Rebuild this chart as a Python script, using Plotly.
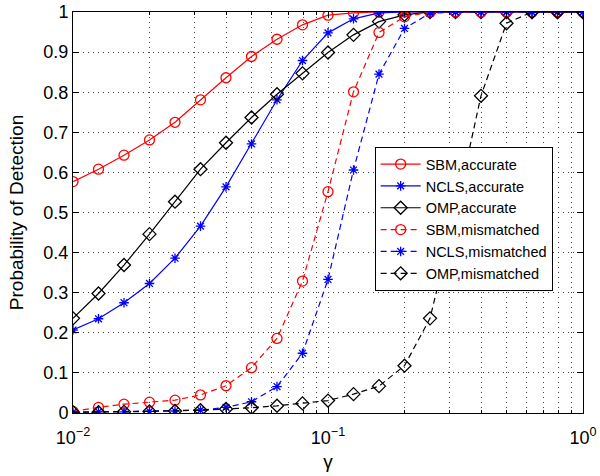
import plotly.graph_objects as go

gamma_exp = [-2 + 0.1 * k for k in range(21)]
gamma = [10 ** e for e in gamma_exp]

sbm_acc = [0.577, 0.608, 0.643, 0.681, 0.725, 0.781, 0.836, 0.889, 0.932, 0.968, 0.992,
           0.998, 1.0, 1.0, 1.0, 1.0, 1.0, 1.0, 1.0, 1.0, 1.0]
ncls_acc = [0.207, 0.235, 0.275, 0.323, 0.386, 0.466, 0.564, 0.671, 0.781, 0.879, 0.948,
            0.983, 0.998, 1.0, 1.0, 1.0, 1.0, 1.0, 1.0, 1.0, 1.0]
omp_acc = [0.236, 0.298, 0.369, 0.446, 0.527, 0.608, 0.674, 0.737, 0.795, 0.847, 0.899,
           0.943, 0.976, 0.993, 1.0, 1.0, 1.0, 1.0, 1.0, 1.0, 1.0]
sbm_mis = [0.004, 0.014, 0.022, 0.027, 0.032, 0.045, 0.068, 0.113, 0.186, 0.329, 0.552,
           0.801, 0.949, 0.988, 1.0, 1.0, 1.0, 1.0, 1.0, 1.0, 1.0]
ncls_mis = [0.002, 0.003, 0.003, 0.004, 0.005, 0.007, 0.014, 0.028, 0.066, 0.149, 0.333,
            0.606, 0.845, 0.959, 0.997, 1.0, 1.0, 1.0, 1.0, 1.0, 1.0]
omp_mis = [0.002, 0.002, 0.003, 0.004, 0.005, 0.007, 0.010, 0.013, 0.018, 0.024, 0.031,
           0.047, 0.067, 0.118, 0.236, 0.50, 0.791, 0.972, 1.0, 1.0, 1.0]

x_tickvals = [0.01, 0.1, 1]
x_ticktext = ["10<sup>\u22122</sup>", "10<sup>\u22121</sup>", "10<sup>0</sup>"]
y_tickvals = [0, 0.1, 0.2, 0.3, 0.4, 0.5, 0.6, 0.7, 0.8, 0.9, 1]
y_ticktext = ["0", "0.1", "0.2", "0.3", "0.4", "0.5", "0.6", "0.7", "0.8", "0.9", "1"]

series = [
    ("SBM,accurate", sbm_acc, "#ff0000", "solid", "circle-open"),
    ("NCLS,accurate", ncls_acc, "#0000ff", "solid", "asterisk-open"),
    ("OMP,accurate", omp_acc, "#000000", "solid", "diamond-open"),
    ("SBM,mismatched", sbm_mis, "#ff0000", "6px,4px", "circle-open"),
    ("NCLS,mismatched", ncls_mis, "#0000ff", "6px,4px", "asterisk-open"),
    ("OMP,mismatched", omp_mis, "#000000", "6px,4px", "diamond-open"),
]

fig = go.Figure()
for name, vals, color, dash, sym in series:
    fig.add_trace(go.Scatter(
        x=gamma, y=vals, name=name, mode="lines+markers",
        line=dict(color=color, width=1.2, dash=dash),
        marker=dict(symbol=sym, size=10 if sym != "asterisk-open" else 8,
                    color=color, line=dict(color=color, width=1.3)),
    ))

font = "Liberation Sans, Arial, Helvetica, sans-serif"
minor_vals = [m * 10 ** d for d in (-2, -1) for m in range(2, 10)]
grid = dict(showgrid=True, gridcolor="#444444", griddash="1px,4px", gridwidth=1)

fig.update_layout(
    width=600, height=476,
    margin=dict(l=73, r=17, t=12, b=63),
    paper_bgcolor="white", plot_bgcolor="white",
    font=dict(family=font, size=18, color="black"),
    showlegend=True,
    legend=dict(
        x=0.766, y=0.663, xanchor="center", yanchor="top",
        bgcolor="white", bordercolor="black", borderwidth=1,
        font=dict(family=font, size=14.5, color="black"),
        tracegroupgap=0, itemwidth=40,
    ),
    xaxis=dict(
        type="log", range=[-2, 0], automargin=False,
        tickmode="array", tickvals=x_tickvals, ticktext=x_ticktext,
        tickfont=dict(size=18), ticklabelstandoff=8,
        showline=True, linecolor="black", linewidth=1, mirror="ticks",
        ticks="inside", ticklen=6, tickcolor="black",
        minor=dict(tickvals=minor_vals, ticks="inside", ticklen=3, tickcolor="black", **grid),
        title=dict(text="\u03b3", font=dict(size=19), standoff=8),
        zeroline=False,
        **grid,
    ),
    yaxis=dict(
        range=[0, 1], automargin=False,
        tickmode="array", tickvals=y_tickvals, ticktext=y_ticktext,
        tickfont=dict(size=18),
        showline=True, linecolor="black", linewidth=1, mirror="ticks",
        ticks="inside", ticklen=6, tickcolor="black",
        title=dict(text="Probability of Detection", font=dict(size=19), standoff=14),
        zeroline=False,
        **grid,
    ),
)

fig.write_html("out.html")
